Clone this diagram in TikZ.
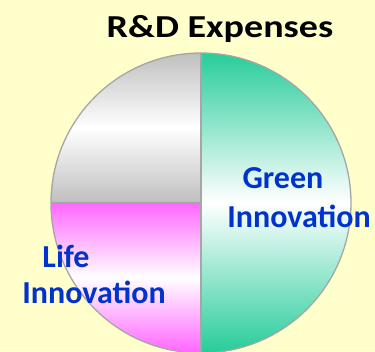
\documentclass[tikz,border=0pt]{standalone}
\usepackage{fontspec}
\setmainfont{Carlito}

\definecolor{paper}{HTML}{FFFFCC}
\definecolor{rim}{HTML}{A6A6A6}
\definecolor{inkblue}{HTML}{0033CC}
\definecolor{silver}{HTML}{BFBFBF}
\definecolor{mint}{HTML}{26CC99}
\definecolor{orchid}{HTML}{FF66FF}

\tikzset{
  lbl/.style={text=inkblue, font=\fontsize{32}{32}\selectfont\bfseries, anchor=base, inner sep=0pt},
  edge/.style={rim, line width=1.3pt}
}

\begin{document}
\begin{tikzpicture}[x=1pt,y=1pt]
      \fill[paper] (0,0) rectangle (375,-351);
      \useasboundingbox (0,0) rectangle (375,-351);
      \def\r{150}
      \coordinate (c) at (201,-203);
      \coordinate (top) at (201,-53);
      \coordinate (bot) at (201,-353);
      \coordinate (left) at (51,-203);
      % grey slice
      \begin{scope}
        \clip (c) -- (top) arc (90:180:\r) -- cycle;
        \foreach \i in {0, ..., 149}{
          \pgfmathtruncatemacro{\p}{100*abs(\i - 74.5) / 74.5}
          \fill[silver!\p!white] (51, {-53 - \i}) rectangle (201, {-54.5 - \i});
        }
      \end{scope}
      % pink slice
      \begin{scope}
        \clip (c) -- (left) arc (180:270:\r) -- cycle;
        \foreach \i in {0, ..., 149}{
          \pgfmathtruncatemacro{\p}{100*abs(\i - 74.5) / 74.5}
          \fill[orchid!\p!white] (51, {-203 - \i}) rectangle (201, {-204.5 - \i});
        }
      \end{scope}
      % green slice
      \begin{scope}
        \clip (c) -- (bot) arc (-90:90:\r) -- cycle;
        \foreach \i in {0, ..., 299}{
          \pgfmathtruncatemacro{\p}{100*abs(\i - 149.5) / 149.5}
          \fill[mint!\p!white] (201, {-53 - \i}) rectangle (351, {-54.5 - \i});
        }
      \end{scope}
      \draw[edge] (c) circle (\r);
      \draw[edge] (top) -- (bot);
      \draw[edge] (left) -- (c);
      % labels
      \node[font=\fontsize{32}{32}\selectfont\bfseries, anchor=base, inner sep=0pt, xscale=1.19] (title) at (220,-37) {R\&D Expenses};
      \node[lbl] (green) at (283,-188) {Green};
      \node[lbl] (greeninno) at (299,-227) {Innovation};
      \node[lbl] (life) at (66,-267) {Life};
      \node[lbl] (lifeinno) at (94,-303) {Innovation};
\end{tikzpicture}
\end{document}
